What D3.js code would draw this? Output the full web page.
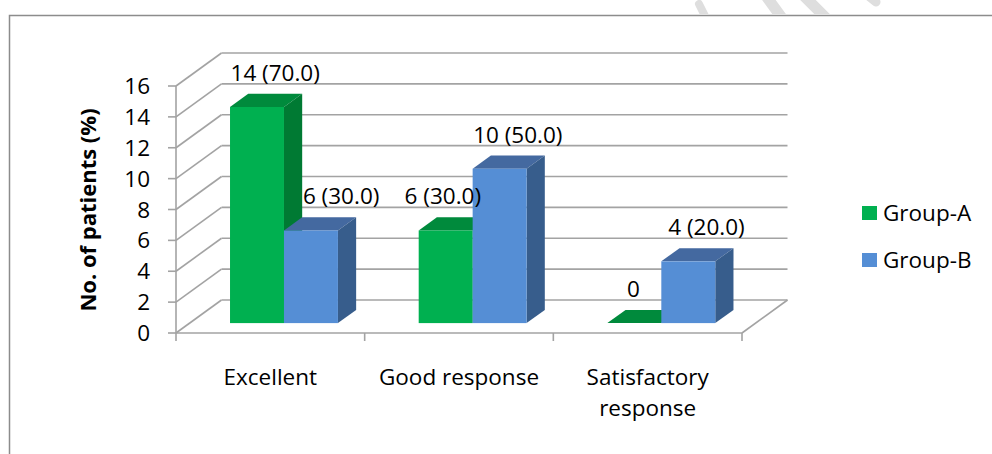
<!DOCTYPE html>
<html><head><meta charset="utf-8">
<script src="https://cdn.jsdelivr.net/npm/d3@7"></script>
<style>
html,body{margin:0;padding:0;background:#fff;}
svg{display:block;}
text{font-family:"Open Sans","Noto Sans",sans-serif;fill:#000;}
</style></head>
<body>
<svg id="chart" width="992" height="454"></svg>
<script>
// ---- data ----
const categories = ["Excellent", "Good response", "Satisfactory response"];
const seriesNames = ["Group-A", "Group-B"];
const groupA = [14, 6, 0];
const groupB = [6, 10, 4];
const labelsA = ["14 (70.0)", "6 (30.0)", "0"];
const labelsB = ["6 (30.0)", "10 (50.0)", "4 (20.0)"];
const yTicks = [0, 2, 4, 6, 8, 10, 12, 14, 16];
const yTitle = "No. of patients (%)";

// ---- layout ----
const W = 992, H = 454;
const svg = d3.select("#chart");
const FONT = 22.5;
const front = {left: 176, right: 742, bottom: 333, top: 86};
const DX = 45.5, DY = -33;            // depth offset of the back wall
const barD0 = 0.3, barD1 = 0.7;       // bar position in depth
const colors = {
  "Group-A": {front: "#00b050", top: "#008a3c", side: "#007a33"},
  "Group-B": {front: "#558ed5", top: "#4469a0", side: "#375d8c"}
};
const gridColor = "#a3a3a3";

const y = d3.scaleLinear().domain([0, 16]).range([front.bottom, front.top]);
const x = d3.scaleBand().domain(categories).range([front.left, front.right])
  .paddingInner(0.428).paddingOuter(0.214);
const xs = d3.scaleBand().domain(seriesNames).range([0, x.bandwidth()]);

// ---- frame & watermark ----
const defs = svg.append("defs");
defs.append("clipPath").attr("id", "wmclip").append("rect")
  .attr("x", 0).attr("y", 0).attr("width", W).attr("height", 14);
const wm = svg.append("g").attr("clip-path", "url(#wmclip)")
  .attr("stroke", "#dedede").attr("stroke-linecap", "round").attr("fill", "none");
[[699, 4, 706, 18, 8], [766, -4, 782, 18, 11], [804, -4, 826, 18, 11], [866, -6, 876, 2, 9]]
  .forEach(s => wm.append("line").attr("x1", s[0]).attr("y1", s[1]).attr("x2", s[2]).attr("y2", s[3]).attr("stroke-width", s[4]));

svg.append("path").attr("d", `M9.5,${H}V15.5H${W}`)
  .attr("fill", "none").attr("stroke", "#8c8c8c").attr("stroke-width", 1.5);

// ---- 3D walls & grid ----
const grid = svg.append("g").attr("stroke", gridColor).attr("stroke-width", 1.6).attr("fill", "none");
yTicks.forEach(v => {
  const yy = y(v);
  grid.append("line").attr("x1", front.left).attr("y1", yy)
    .attr("x2", front.left + DX).attr("y2", yy + DY);
  grid.append("line").attr("x1", front.left + DX).attr("y1", yy + DY)
    .attr("x2", front.right + DX).attr("y2", yy + DY);
  grid.append("line").attr("x1", front.left - 8).attr("y1", yy)
    .attr("x2", front.left).attr("y2", yy);
});
grid.append("line").attr("x1", front.left).attr("y1", y(16)).attr("x2", front.left).attr("y2", y(0));
grid.append("line").attr("x1", front.left).attr("y1", y(0)).attr("x2", front.right).attr("y2", y(0));
grid.append("line").attr("x1", front.right).attr("y1", y(0)).attr("x2", front.right + DX).attr("y2", y(0) + DY);
const bounds = d3.range(categories.length + 1).map(i => front.left + i * x.step());
bounds.forEach(bx => grid.append("line").attr("x1", bx).attr("y1", y(0)).attr("x2", bx).attr("y2", y(0) + 8));

// ---- y tick labels ----
svg.append("g").selectAll("text").data(yTicks).join("text")
  .attr("x", 150).attr("y", d => y(d)).attr("dy", "0.36em")
  .attr("text-anchor", "end").attr("font-size", FONT).text(d => d);

// y title
svg.append("text").attr("transform", `translate(96,210) rotate(-90)`)
  .attr("text-anchor", "middle").attr("font-size", 22).attr("font-weight", "bold")
  .text(yTitle);

// ---- bars ----
const rows = [];
categories.forEach((c, i) => {
  rows.push({cat: c, s: "Group-A", v: groupA[i], label: labelsA[i]});
  rows.push({cat: c, s: "Group-B", v: groupB[i], label: labelsB[i]});
});
const fdx = barD0 * DX, fdy = barD0 * DY;
const bdx = (barD1 - barD0) * DX, bdy = (barD1 - barD0) * DY;

const bars = svg.append("g");
rows.forEach(r => {
  const x0 = x(r.cat) + xs(r.s) + fdx;
  const x1 = x0 + xs.bandwidth();
  const yt = y(r.v) + fdy;
  const yb = y(0) + fdy;
  const col = colors[r.s];
  const g = bars.append("g");
  g.append("path").attr("fill", col.top)
    .attr("d", `M${x0},${yt}L${x1},${yt}L${x1 + bdx},${yt + bdy}L${x0 + bdx},${yt + bdy}Z`);
  if (r.v > 0) {
    g.append("path").attr("fill", col.side)
      .attr("d", `M${x1},${yt}L${x1 + bdx},${yt + bdy}L${x1 + bdx},${yb + bdy}L${x1},${yb}Z`);
    g.append("rect").attr("fill", col.front)
      .attr("x", x0).attr("y", yt).attr("width", x1 - x0).attr("height", yb - yt);
  }
  r.lx = (x0 + x1) / 2 + bdx;
  r.ly = yt + bdy - 21;
});

// ---- data labels (small manual nudges to avoid overlaps, as in the original) ----
const nudge = {"Excellent|Group-B": 12, "Good response|Group-A": -21, "Satisfactory response|Group-A": -19};
svg.append("g").selectAll("text").data(rows).join("text")
  .attr("x", d => d.lx + (nudge[d.cat + "|" + d.s] || 0))
  .attr("y", d => d.ly).attr("dy", "0.36em")
  .attr("text-anchor", "middle").attr("font-size", FONT)
  .text(d => d.label);

// ---- category labels (wrapped) ----
const catG = svg.append("g");
categories.forEach(c => {
  const cx = x(c) + x.bandwidth() / 2;
  const t = catG.append("text").attr("text-anchor", "middle").attr("font-size", FONT)
    .attr("x", cx).attr("y", 377);
  const words = c.split(" ");
  let line = [];
  let ts = t.append("tspan").attr("x", cx).attr("dy", "0.36em");
  words.forEach(w => {
    line.push(w);
    ts.text(line.join(" "));
    if (ts.node().getComputedTextLength() > x.step() * 0.92 && line.length > 1) {
      line.pop();
      ts.text(line.join(" "));
      line = [w];
      ts = t.append("tspan").attr("x", cx).attr("dy", "1.38em").text(w);
    }
  });
});

// ---- legend ----
const leg = svg.append("g");
seriesNames.forEach((s, i) => {
  const cy = 213 + i * 47;
  leg.append("rect").attr("x", 862).attr("y", cy - 7).attr("width", 15).attr("height", 14)
    .attr("fill", colors[s].front);
  leg.append("text").attr("x", 883).attr("y", cy).attr("dy", "0.36em")
    .attr("font-size", FONT).text(s);
});
</script>
</body></html>
